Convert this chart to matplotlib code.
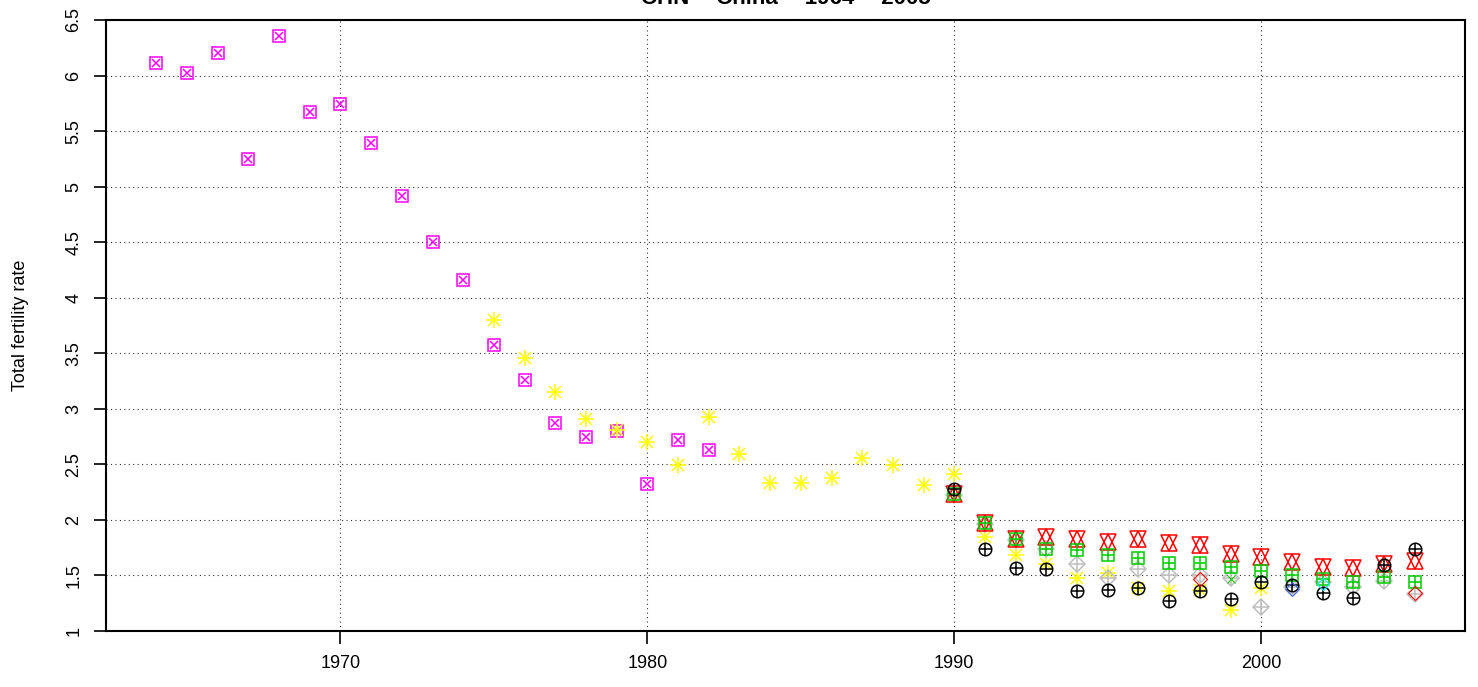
import matplotlib
matplotlib.use("Agg")
import matplotlib.pyplot as plt

plt.rcParams['font.family'] = ['Liberation Sans', 'DejaVu Sans']

# magenta boxed-x series
years_mag = list(range(1964, 1983))
tfr_mag = [6.11, 6.02, 6.20, 5.25, 6.36, 5.67, 5.74, 5.39, 4.92, 4.50,
           4.16, 3.57, 3.26, 2.87, 2.75, 2.80, 2.32, 2.72, 2.63]

# yellow asterisk series
years_yel = list(range(1975, 2001))
tfr_yel = [3.80, 3.46, 3.15, 2.91, 2.81, 2.70, 2.49, 2.93, 2.59, 2.33,
           2.33, 2.38, 2.56, 2.49, 2.31, 2.41, 1.85, 1.68, 1.60, 1.48,
           1.52, 1.39, 1.36, 1.37, 1.19, 1.39]

years_90 = list(range(1990, 2006))
# red hexagram series
tfr_red = [2.23, 1.97, 1.83, 1.85, 1.83, 1.80, 1.83, 1.79, 1.77, 1.69,
           1.67, 1.62, 1.58, 1.57, 1.60, 1.63]
# green boxed-plus series
tfr_grn = [2.23, 1.97, 1.83, 1.74, 1.73, 1.68, 1.66, 1.61, 1.61, 1.58,
           1.54, 1.50, 1.47, 1.44, 1.49, 1.44]
# grey diamond-plus series
tfr_gry = [2.22, 1.96, 1.82, 1.74, 1.60, 1.48, 1.56, 1.50, 1.50, 1.48,
           1.22, 1.40, 1.44, 1.40, 1.45, 1.33]
# black circle-plus series
tfr_blk = [2.28, 1.74, 1.57, 1.56, 1.36, 1.37, 1.39, 1.27, 1.36, 1.29,
           1.44, 1.41, 1.34, 1.30, 1.59, 1.74]

# a few scattered extra estimates
years_rdia = [1998, 2005]
tfr_rdia = [1.47, 1.34]
years_bdia = [2001]
tfr_bdia = [1.38]
years_cyan = [2002]
tfr_cyan = [1.42]
years_gx = [1999]
tfr_gx = [1.47]

yticks = [1, 1.5, 2, 2.5, 3, 3.5, 4, 4.5, 5, 5.5, 6, 6.5]
ytick_labels = ['1', '1.5', '2', '2.5', '3', '3.5', '4', '4.5', '5', '5.5', '6', '6.5']
xticks = [1970, 1980, 1990, 2000]

fig = plt.figure(figsize=(14.78, 6.87), dpi=100)
ax = fig.add_axes([0.0717, 0.0815, 0.9195, 0.8894])


def combo(x, y, color, parts, ms, lw=1.1):
    for m, scale in parts:
        ax.plot(x, y, linestyle='none', marker=m, markersize=ms * scale,
                markerfacecolor='none', markeredgecolor=color,
                markeredgewidth=lw)


combo(years_mag, tfr_mag, '#FF00FF', [('s', 1.0), ('x', 0.75)], 8)
combo(years_yel, tfr_yel, '#FFFF00', [('+', 1.0), ('x', 0.75)], 12)
combo(years_90, tfr_gry, '#BEBEBE', [('D', 1.0), ('+', 1.3)], 8)
combo(years_90, tfr_red, '#FF0000', [('^', 1.0), ('v', 1.0)], 11)
combo(years_90, tfr_grn, '#00CD00', [('s', 1.0), ('+', 1.0)], 8)
combo(years_90, tfr_blk, 'black', [('o', 1.0), ('+', 1.0)], 9)
combo(years_rdia, tfr_rdia, '#FF0000', [('D', 1.0)], 7, 0.8)
combo(years_bdia, tfr_bdia, '#4169E1', [('D', 1.0)], 7, 0.8)
combo(years_cyan, tfr_cyan, '#00FFFF', [('D', 1.0)], 6, 0.8)
combo(years_gx, tfr_gx, '#00CD00', [('x', 1.0)], 6, 0.8)

ax.set_xlim(1962.36, 2006.64)
ax.set_ylim(1, 6.5)
ax.set_xticks(xticks)
ax.set_xticklabels([str(t) for t in xticks], fontsize=13)
ax.set_yticks(yticks)
ax.set_yticklabels(ytick_labels, fontsize=13, rotation=90, va='center')
ax.tick_params(length=9, width=1.2, color='black', pad=8)
ax.grid(True, color='#333333', linestyle=(0, (1, 3)), linewidth=0.8)
ax.set_axisbelow(True)
for s in ax.spines.values():
    s.set_linewidth(1.5)
ax.set_ylabel('Total fertility rate', fontsize=13, labelpad=26)

fig.text(0.5315, 0.994, 'CHN -- China -- 1964 -- 2005', ha='center',
         va='baseline', fontsize=16, fontweight='bold')

fig.savefig('out.png', dpi=100)
